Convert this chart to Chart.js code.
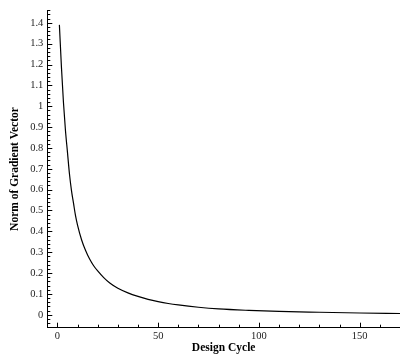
<!DOCTYPE html>
<html>
<head>
<meta charset="utf-8">
<script src="https://cdn.jsdelivr.net/npm/chart.js@4/dist/chart.umd.min.js"></script>
<style>
  html, body { margin: 0; padding: 0; background: #fff; }
  #wrap { width: 400px; height: 359px; position: relative; }
</style>
</head>
<body>
<div id="wrap"><canvas id="chart-gradient"></canvas></div>
<script>
// values
const designCycle = [1, 2, 3, 4, 5, 6, 7, 8, 9, 10, 12, 14, 16, 18, 20, 23, 26, 30, 35, 40, 45, 50, 55, 60, 70, 80, 95, 110, 130, 150, 170];
const gradientNorm = [1.39, 1.19, 1.02, 0.885, 0.78, 0.675, 0.595, 0.535, 0.475, 0.43, 0.36, 0.308, 0.267, 0.235, 0.21, 0.178, 0.152, 0.127, 0.105, 0.088, 0.074, 0.063, 0.054, 0.047, 0.036, 0.028, 0.021, 0.016, 0.012, 0.0085, 0.006];

const xTicks = [0, 50, 100, 150];
const yTicks = [0, 0.1, 0.2, 0.3, 0.4, 0.5, 0.6, 0.7, 0.8, 0.9, 1, 1.1, 1.2, 1.3, 1.4];

const X_MIN = -5, X_MAX = 170;
const Y_MIN = -0.062, Y_MAX = 1.46;

const SERIF = '"Liberation Serif", "Times New Roman", serif';

// inward major/minor tick marks, drawn from the chart's own scales
const tickMarks = {
  id: 'tickMarks',
  afterDraw(chart) {
    const { ctx, scales: { x, y } } = chart;
    ctx.save();
    ctx.strokeStyle = '#000';
    ctx.lineWidth = 1;
    ctx.beginPath();
    for (let v = -0.06; v <= Y_MAX + 1e-9; v += 0.02) {
      const r = Math.round(v * 100) / 100;
      const major = Math.abs(r * 10 - Math.round(r * 10)) < 1e-6;
      const py = Math.round(y.getPixelForValue(r)) + 0.5;
      ctx.moveTo(x.left, py);
      ctx.lineTo(x.left + (major ? 5 : 3), py);
    }
    for (let v = 0; v <= X_MAX; v += 10) {
      const major = v % 50 === 0;
      const px = Math.round(x.getPixelForValue(v)) + 0.5;
      ctx.moveTo(px, y.bottom);
      ctx.lineTo(px, y.bottom - (major ? 5 : 3));
    }
    ctx.stroke();
    ctx.restore();
  }
};

const ctx = document.getElementById('chart-gradient').getContext('2d');
new Chart(ctx, {
  type: 'line',
  data: {
    datasets: [{
      data: designCycle.map((c, i) => ({ x: c, y: gradientNorm[i] })),
      borderColor: '#000',
      borderWidth: 1.2,
      pointRadius: 0,
      fill: false,
      cubicInterpolationMode: 'monotone',
    }],
  },
  options: {
    responsive: true,
    maintainAspectRatio: false,
    animation: false,
    layout: { padding: 0 },
    plugins: { legend: { display: false }, tooltip: { enabled: false } },
    scales: {
      x: {
        type: 'linear',
        min: X_MIN,
        max: X_MAX,
        afterBuildTicks: s => { s.ticks = xTicks.map(v => ({ value: v })); },
        afterFit: s => { s.height = 31.3; },
        grid: { display: false, drawTicks: false },
        border: { display: true, color: '#000', width: 1 },
        ticks: {
          padding: 2,
          maxRotation: 0,
          color: '#222',
          font: { family: SERIF, size: 10.5 },
        },
        title: {
          display: true,
          text: 'Design Cycle',
          color: '#000',
          padding: { top: 0, bottom: 4 },
          font: { family: SERIF, size: 11.5, weight: 'bold' },
        },
      },
      y: {
        type: 'linear',
        min: Y_MIN,
        max: Y_MAX,
        afterBuildTicks: s => { s.ticks = yTicks.map(v => ({ value: v })); },
        afterFit: s => { s.width = 47.3; },
        grid: { display: false, drawTicks: false },
        border: { display: true, color: '#000', width: 1 },
        ticks: {
          padding: 4,
          color: '#222',
          font: { family: SERIF, size: 10.5 },
          callback: v => String(Math.round(v * 10) / 10),
        },
        title: {
          display: true,
          text: 'Norm of Gradient Vector',
          color: '#000',
          padding: { top: 8, bottom: 0 },
          font: { family: SERIF, size: 11.5, weight: 'bold' },
        },
      },
    },
  },
  plugins: [tickMarks],
});
</script>
</body>
</html>
